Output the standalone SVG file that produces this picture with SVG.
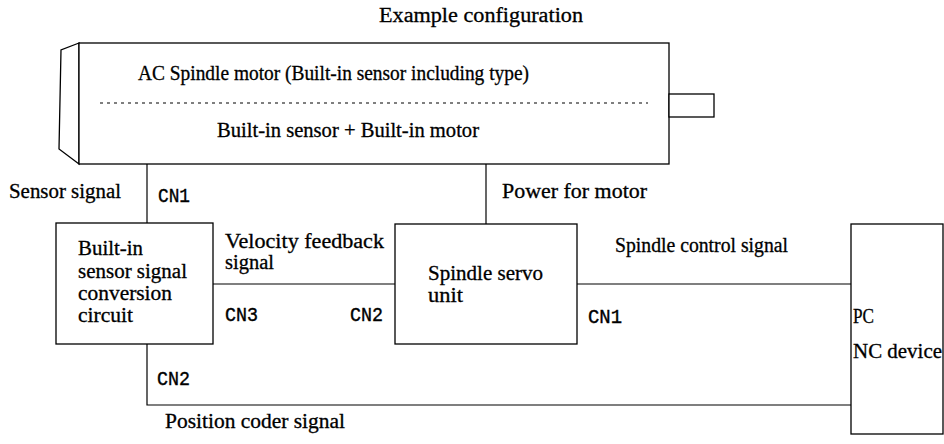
<svg xmlns="http://www.w3.org/2000/svg" width="944" height="444" viewBox="0 0 944 444">
<style>
  .box{fill:#fff;stroke:#000;stroke-width:1.3}
  .ln{fill:none;stroke:#000;stroke-width:1.2}
  .dot{fill:none;stroke:#000;stroke-width:1.2;stroke-dasharray:3 4}
  .t{font-family:"Liberation Serif","Times New Roman",serif;font-size:20px;fill:#000;stroke:#000;stroke-width:0.3}
  .m{font-family:"Liberation Mono","Courier New",monospace;font-size:21px;fill:#000;stroke:#000;stroke-width:0.4}
</style>
<rect width="944" height="444" fill="#fff"/>
<text class="t" x="379" y="22" textLength="204" lengthAdjust="spacingAndGlyphs">Example configuration</text>

<g id="motor">
  <polygon class="box" points="79,43 61,50 59,149 79,164"/>
  <rect class="box" x="79" y="43" width="590" height="121"/>
  <rect class="box" x="669" y="94" width="45" height="23"/>
  <line class="dot" x1="100" y1="103" x2="648" y2="103"/>
  <text class="t" x="138" y="80" textLength="391" lengthAdjust="spacingAndGlyphs">AC Spindle motor (Built-in sensor including type)</text>
  <text class="t" x="217" y="137" textLength="262" lengthAdjust="spacingAndGlyphs">Built-in sensor + Built-in motor</text>
</g>

<g id="connectors">
  <line class="ln" x1="147" y1="164" x2="147" y2="223"/>
  <line class="ln" x1="486" y1="164" x2="486" y2="224"/>
  <line class="ln" x1="213" y1="284" x2="395" y2="284"/>
  <line class="ln" x1="577" y1="284" x2="851" y2="284"/>
  <polyline class="ln" points="147,344 147,405 851,405"/>
  <text class="t" x="9" y="198" textLength="112" lengthAdjust="spacingAndGlyphs">Sensor signal</text>
  <text class="m" x="158" y="202" textLength="32" lengthAdjust="spacingAndGlyphs">CN1</text>
  <text class="t" x="502" y="198" textLength="145" lengthAdjust="spacingAndGlyphs">Power for motor</text>
  <text class="t" x="225" y="248" textLength="159" lengthAdjust="spacingAndGlyphs">Velocity feedback</text>
  <text class="t" x="225" y="269" textLength="49" lengthAdjust="spacingAndGlyphs">signal</text>
  <text class="m" x="225" y="321" textLength="33" lengthAdjust="spacingAndGlyphs">CN3</text>
  <text class="m" x="350" y="321" textLength="33" lengthAdjust="spacingAndGlyphs">CN2</text>
  <text class="m" x="588" y="323" textLength="34" lengthAdjust="spacingAndGlyphs">CN1</text>
  <text class="t" x="615" y="252" textLength="173" lengthAdjust="spacingAndGlyphs">Spindle control signal</text>
  <text class="m" x="157" y="385" textLength="33" lengthAdjust="spacingAndGlyphs">CN2</text>
  <text class="t" x="165" y="428" textLength="180" lengthAdjust="spacingAndGlyphs">Position coder signal</text>
</g>

<g id="conversion">
  <rect class="box" x="56" y="223" width="157" height="121"/>
  <text class="t" x="78" y="255" textLength="65" lengthAdjust="spacingAndGlyphs">Built-in</text>
  <text class="t" x="78" y="278" textLength="109" lengthAdjust="spacingAndGlyphs">sensor signal</text>
  <text class="t" x="78" y="300" textLength="94" lengthAdjust="spacingAndGlyphs">conversion</text>
  <text class="t" x="78" y="322" textLength="55" lengthAdjust="spacingAndGlyphs">circuit</text>
</g>

<g id="servo">
  <rect class="box" x="395" y="224" width="182" height="120"/>
  <text class="t" x="428" y="280" textLength="115" lengthAdjust="spacingAndGlyphs">Spindle servo</text>
  <text class="t" x="428" y="302" textLength="35" lengthAdjust="spacingAndGlyphs">unit</text>
</g>

<g id="nc">
  <rect class="box" x="851" y="224" width="92" height="210"/>
  <text class="t" x="853" y="323" textLength="21" lengthAdjust="spacingAndGlyphs">PC</text>
  <text class="t" x="853" y="358" textLength="89" lengthAdjust="spacingAndGlyphs">NC device</text>
</g>
</svg>
